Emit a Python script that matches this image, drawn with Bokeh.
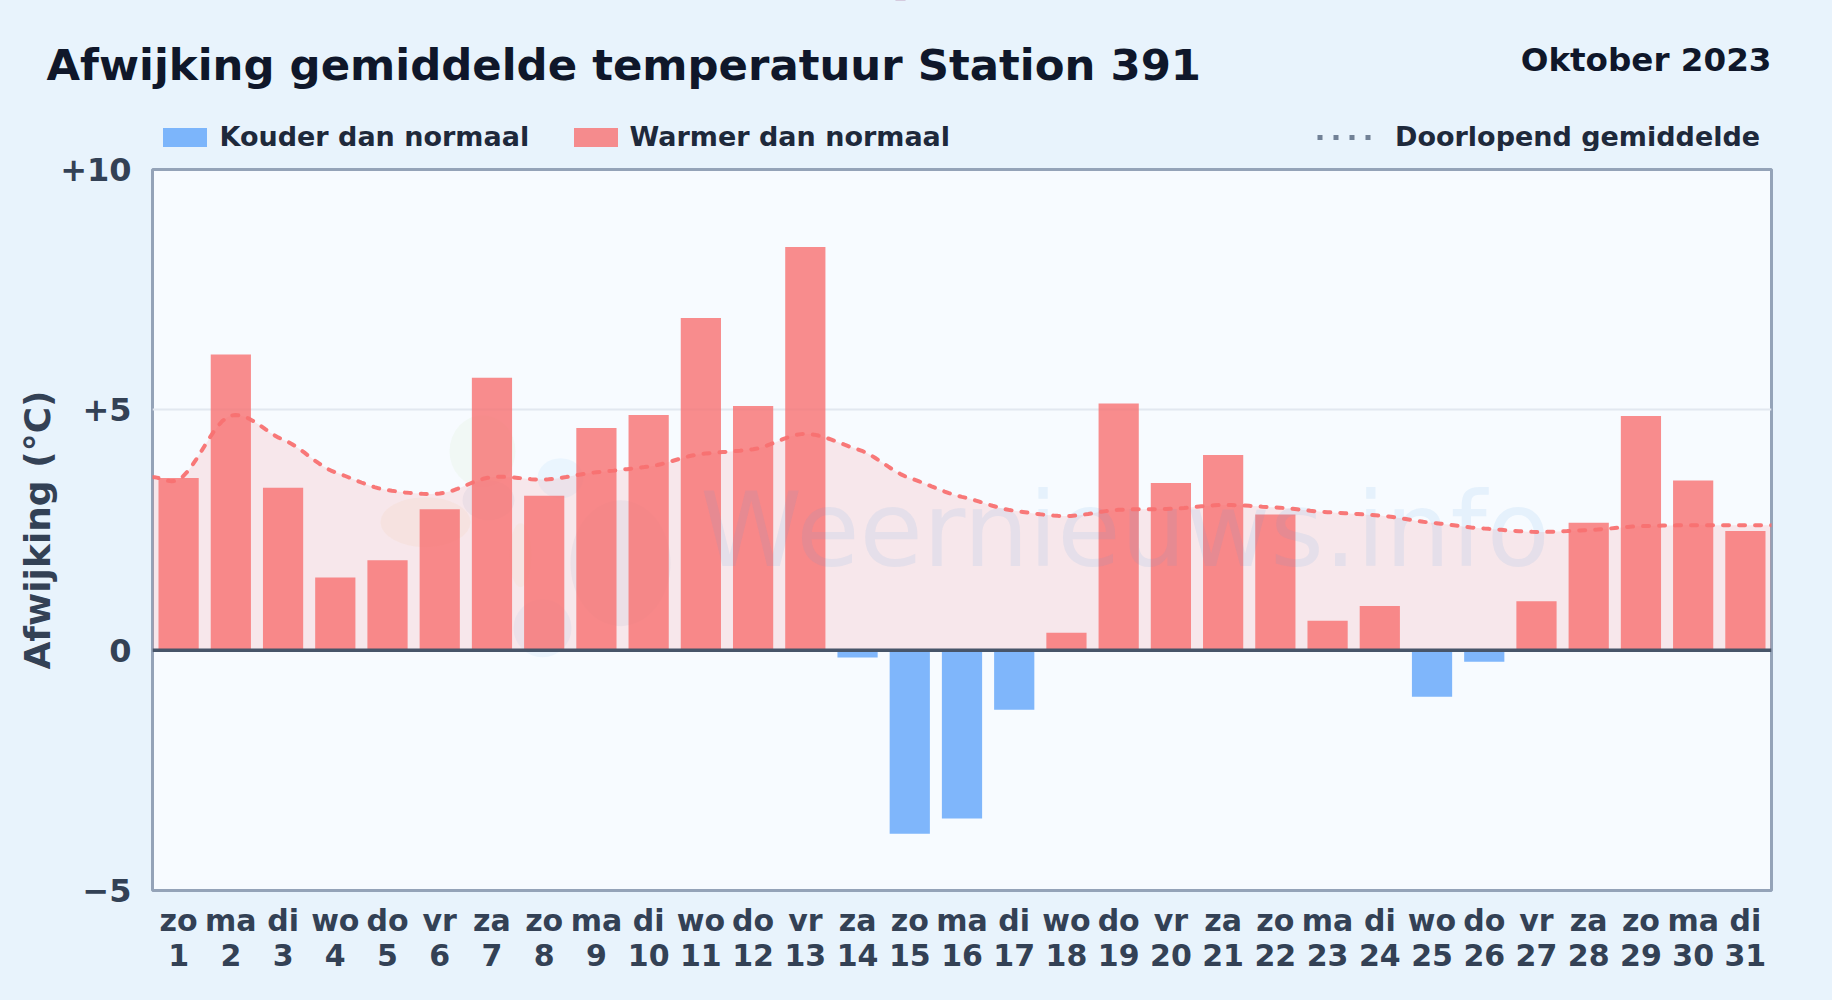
from bokeh.plotting import figure
from bokeh.embed import file_html
from bokeh.resources import INLINE
from bokeh.models import Range1d, FixedTicker, Span, Legend, LegendItem
from bokeh.core.properties import value
import numpy as np

days = list(range(1, 32))
weekdays = ["zo","ma","di","wo","do","vr","za","zo","ma","di","wo","do","vr","za","zo","ma","di","wo","do","vr","za","zo","ma","di","wo","do","vr","za","zo","ma","di"]
deviation = [3.58,6.15,3.38,1.51,1.87,2.93,5.67,3.21,4.62,4.89,6.91,5.08,8.39,-0.15,-3.82,-3.50,-1.24,0.36,5.13,3.48,4.06,2.82,0.61,0.92,-0.97,-0.24,1.02,2.65,4.87,3.53,2.48]
running_x = [0.5] + days + [31.5]
running = [3.60,3.55,4.88,4.38,3.70,3.33,3.26,3.60,3.55,3.70,3.82,4.08,4.18,4.50,4.18,3.58,3.19,2.90,2.79,2.92,2.94,3.02,2.97,2.87,2.80,2.65,2.53,2.46,2.50,2.58,2.60,2.60,2.60]
y_ticks = [-5, 0, 5, 10]
y_labels = {-5: "\u22125", 0: "0", 5: "+5", 10: "+10"}
title_text = "Afwijking gemiddelde temperatuur Station 391"
month_text = "Oktober 2023"
watermark_text = "Weernieuws.info"

FONT = "DejaVu Sans"
BG = "#e8f3fc"

def smooth(xs, ys, s=0.7, n=12):
    xs, ys = np.array(xs, float), np.array(ys, float)
    m = np.zeros_like(ys)
    m[1:-1] = s * (ys[2:] - ys[:-2]) / (xs[2:] - xs[:-2])
    ox, oy = [], []
    for i in range(len(xs) - 1):
        h = xs[i + 1] - xs[i]
        for t in np.linspace(0, 1, n, endpoint=False):
            a = 2*t**3 - 3*t**2 + 1
            b = t**3 - 2*t**2 + t
            c = -2*t**3 + 3*t**2
            d = t**3 - t**2
            ox.append(xs[i] + t*h)
            oy.append(a*ys[i] + b*h*m[i] + c*ys[i+1] + d*h*m[i+1])
    ox.append(xs[-1]); oy.append(ys[-1])
    return np.array(ox), np.array(oy)

W, H_TOP, H_MAIN = 1832, 151, 849

# header strip: its data units are page pixels, frame fills the whole strip
top = figure(width=W, height=H_TOP, output_backend="svg", toolbar_location=None,
             x_range=Range1d(0, W), y_range=Range1d(H_TOP, 0),
             x_axis_type=None, y_axis_type=None, min_border=0,
             background_fill_color=BG, border_fill_color=BG, outline_line_color=None)
top.grid.visible = False
top.text(x=[46], y=[64], text=[title_text], text_font=value(FONT), text_font_style="bold",
         text_font_size="43.4px", text_color="#0f172a", text_baseline="alphabetic")
top.text(x=[1771], y=[59.5], text=[month_text], text_font=value(FONT), text_font_style="bold",
         text_font_size="32.6px", text_color="#0f172a", text_align="right", text_baseline="alphabetic")

# legend keys: real renderers that draw nothing inside the strip
k_cold = top.vbar(x=[900], top=[-50], bottom=[-60], width=10, fill_color="#60a5fa", fill_alpha=0.8, line_color=None)
k_warm = top.vbar(x=[900], top=[-50], bottom=[-60], width=10, fill_color="#f87171", fill_alpha=0.8, line_color=None)
k_mean = top.line(x=[float("nan"), float("nan")], y=[float("nan"), float("nan")], line_color="#64748b", line_width=5, line_dash="5 11", line_alpha=0.9)

def legend(label, rend, x, gw, gh, standoff):
    lg = Legend(items=[LegendItem(label=label, renderers=[rend])], location=(x, -1),
                orientation="horizontal", background_fill_alpha=0, border_line_color=None,
                margin=0, padding=0, glyph_width=gw, glyph_height=gh, label_standoff=standoff,
                label_text_font=FONT, label_text_font_style="bold", label_text_font_size="27px",
                label_text_color="#1e293b", label_height=26)
    top.add_layout(lg, "center")

legend("Kouder dan normaal", k_cold, 156.5, 55, 24, 8)
legend("Warmer dan normaal", k_warm, 567.5, 55, 24, 7)
legend("Doorlopend gemiddelde", k_mean, 1317, 56, 24, 22)

# main chart
p = figure(width=W, height=H_MAIN, output_backend="svg", toolbar_location=None,
           x_range=Range1d(0.5, 31.5), y_range=Range1d(-5, 10),
           min_border_left=152, min_border_right=61, min_border_top=18, min_border_bottom=110,
           background_fill_color="#f7fbff", border_fill_color=BG,
           outline_line_color="#94a3b8", outline_line_width=3)

p.xgrid.visible = False
p.ygrid.ticker = FixedTicker(ticks=[5])
p.ygrid.grid_line_color = "#e2e8f0"
p.ygrid.grid_line_width = 2

p.xaxis.ticker = FixedTicker(ticks=days)
p.xaxis.major_label_overrides = {d: f"{w}\n{d}" for d, w in zip(days, weekdays)}
p.yaxis.ticker = FixedTicker(ticks=y_ticks)
p.yaxis.major_label_overrides = y_labels
for ax in (p.xaxis[0], p.yaxis[0]):
    ax.axis_line_color = None
    ax.major_tick_line_color = None
    ax.minor_tick_line_color = None
    ax.major_label_text_font = FONT
    ax.major_label_text_font_style = "bold"
    ax.major_label_text_color = "#334155"
p.xaxis.major_label_text_font_size = "30px"
p.xaxis.major_label_text_line_height = 1.02
p.yaxis.major_label_text_font_size = "32px"
p.xaxis.major_label_standoff = 6
p.yaxis.major_label_standoff = 15
p.yaxis.axis_label = "Afwijking (\u00b0C)"
p.yaxis.axis_label_text_font = FONT
p.yaxis.axis_label_text_font_style = "bold"
p.yaxis.axis_label_text_font_size = "36px"
p.yaxis.axis_label_text_color = "#334155"
p.yaxis.axis_label_standoff = -1

# faint logo behind the chart (page-pixel centre x, centre y, width, height, colour)
logo_cx = [482, 425, 520, 560, 488, 620, 542]
logo_cy = [451, 522, 555, 478, 500, 563, 628]
logo_w = [66, 90, 22, 46, 52, 100, 58]
logo_h = [72, 50, 64, 40, 40, 126, 58]
logo_c = ["#c9e29a", "#f5c98a", "#f7dc9a", "#7cc4f5", "#8a9fd0", "#8a9fd0", "#8ab8e8"]
PXX, PXY = 1619 / 31, 721 / 15
p.ellipse(x=[0.5 + (c - 152) / PXX for c in logo_cx], y=[(650 - c) / PXY for c in logo_cy],
          width=[w / PXX for w in logo_w], height=[h / PXY for h in logo_h],
          fill_color=logo_c, fill_alpha=0.10, line_color=None)

sx, sy = smooth(running_x, running)
p.varea(x=sx, y1=np.zeros_like(sy), y2=sy, fill_color="#f87171", fill_alpha=0.14)

cold_x = [d for d, v in zip(days, deviation) if v < 0]
cold_y = [v for v in deviation if v < 0]
warm_x = [d for d, v in zip(days, deviation) if v >= 0]
warm_y = [v for v in deviation if v >= 0]
p.vbar(x=cold_x, top=cold_y, bottom=0, width=0.77, fill_color="#60a5fa", fill_alpha=0.8, line_color=None)
p.vbar(x=warm_x, top=warm_y, bottom=0, width=0.77, fill_color="#f87171", fill_alpha=0.8, line_color=None)

# watermark (font size must not be exactly 100px: that breaks the SVG font parser)
p.text(x=[10.99], y=[2.51], text=[watermark_text], text_font=value(FONT), text_font_style="normal",
       text_font_size="103px", text_color="#4da1e1", text_alpha=0.1, text_baseline="alphabetic")

p.line(sx, sy, line_color="#f87171", line_alpha=0.95, line_width=4, line_dash="6 10", line_cap="round")
p.add_layout(Span(location=0, dimension="width", line_color="#475569", line_width=3.5))

html = file_html([top, p], INLINE)
html = html.replace("<head>", f"<head><style>html,body{{background:{BG};margin:0;overflow:hidden;}}</style>", 1)
open("out.html", "w").write(html)
